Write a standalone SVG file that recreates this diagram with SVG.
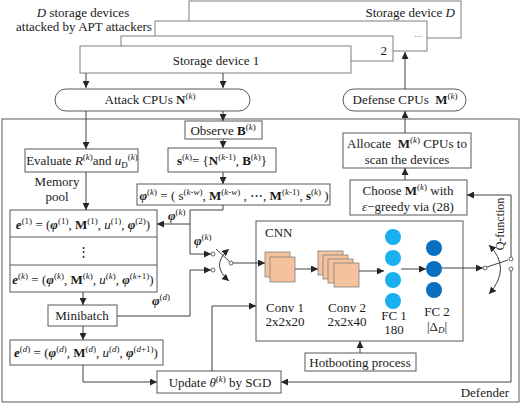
<svg xmlns="http://www.w3.org/2000/svg" width="521" height="406" viewBox="0 0 521 406">
<style>
.t{font-family:"Liberation Serif","Times New Roman",serif;font-size:13px;fill:#1a1a1a}
.sp{font-size:9px}
.i{font-style:italic}
.b{font-weight:bold}
.bi{font-weight:bold;font-style:italic}
.box{fill:#fff;stroke:#595959;stroke-width:1}
.dev{fill:#fff;stroke:#7f7f7f;stroke-width:1}
.ln{fill:none;stroke:#404040;stroke-width:1}
.ar{marker-end:url(#ah)}
.sq{fill:#F4C29C;stroke:#808080;stroke-width:0.8}
.f1{fill:#1AAFEF}
.f2{fill:#0B6FC0}
.ct{fill:#fff;stroke:#404040;stroke-width:0.8}
</style>
<defs>
<marker id="ah" viewBox="0 0 8 8" refX="8" refY="4" markerWidth="7" markerHeight="7" markerUnits="userSpaceOnUse" orient="auto"><path d="M0,0 L8,4 L0,8 z" fill="#262626"/></marker>
<marker id="ah2" viewBox="0 0 8 8" refX="8" refY="4" markerWidth="7" markerHeight="7" markerUnits="userSpaceOnUse" orient="auto-start-reverse"><path d="M0,0 L8,4 L0,8 z" fill="#262626"/></marker>
</defs>
<rect width="521" height="406" fill="#fff"/>

<g id="defender">
<rect x="2" y="119" width="517" height="283" fill="none" stroke="#595959" stroke-width="1"/>
<text class="t" x="509" y="397" text-anchor="end">Defender</text>
</g>

<g id="storage">
<rect class="dev" x="189" y="1" width="272" height="37"/>
<text class="t" x="455" y="17" text-anchor="end">Storage device <tspan class="i">D</tspan></text>
<rect class="dev" x="155" y="21" width="272" height="30"/>
<text class="t" x="418" y="37" text-anchor="middle" style="font-size:10px;fill:#888">...</text>
<rect class="dev" x="121" y="36" width="272" height="25"/>
<text class="t" x="387" y="55" text-anchor="end">2</text>
<rect class="dev" x="80" y="46" width="271" height="27"/>
<text class="t" x="216" y="65" text-anchor="middle">Storage device 1</text>
</g>

<g id="apt-label">
<text class="t" x="83" y="17" text-anchor="middle"><tspan class="i">D</tspan> storage devices</text>
<text class="t" x="84" y="31" text-anchor="middle">attacked by APT attackers</text>
</g>

<g id="attack-cpus">
<rect class="box" x="55" y="89" width="195" height="22" rx="11"/>
<text class="t" x="150" y="104" text-anchor="middle">Attack CPUs <tspan class="b">N</tspan><tspan class="sp" dy="-5">(<tspan class="i">k</tspan>)</tspan></text>
</g>

<g id="defense-cpus">
<rect class="box" x="343" y="89" width="123" height="22" rx="11"/>
<text class="t" x="405" y="104" text-anchor="middle">Defense CPUs&#160; <tspan class="b">M</tspan><tspan class="sp" dy="-5">(<tspan class="i">k</tspan>)</tspan></text>
</g>

<g id="observe">
<rect class="box" x="185" y="121" width="77" height="18"/>
<text class="t" x="223" y="135" text-anchor="middle">Observe <tspan class="b">B</tspan><tspan class="sp" dy="-5">(<tspan class="i">k</tspan>)</tspan></text>
</g>

<g id="evaluate">
<rect class="box" x="25" y="149" width="113" height="23"/>
<text class="t" x="82" y="165" text-anchor="middle">Evaluate <tspan class="i">R</tspan><tspan class="sp" dy="-5">(<tspan class="i">k</tspan>)</tspan><tspan dy="5">and </tspan><tspan class="i">u</tspan><tspan class="sp" dy="3">D</tspan><tspan class="sp" dy="-8">(<tspan class="i">k</tspan>)</tspan></text>
</g>

<g id="state">
<rect class="box" x="168" y="148" width="108" height="24"/>
<text class="t" x="222" y="165" text-anchor="middle"><tspan class="b">s</tspan><tspan class="sp" dy="-5">(<tspan class="i">k</tspan>)</tspan><tspan dy="5">= {</tspan><tspan class="b">N</tspan><tspan class="sp" dy="-5">(<tspan class="i">k</tspan>-1)</tspan><tspan dy="5">, </tspan><tspan class="b">B</tspan><tspan class="sp" dy="-5">(<tspan class="i">k</tspan>)</tspan><tspan dy="5">}</tspan></text>
</g>

<g id="memory-label">
<text class="t" x="57" y="186" text-anchor="middle">Memory</text>
<text class="t" x="57" y="201" text-anchor="middle">pool</text>
</g>

<g id="phi">
<rect class="box" x="137" y="184" width="193" height="21"/>
<text class="t" x="234" y="200" text-anchor="middle"><tspan class="bi">φ</tspan><tspan class="sp" dy="-5">(<tspan class="i">k</tspan>)</tspan><tspan dy="5"> = ( s</tspan><tspan class="sp" dy="-5">(<tspan class="i">k</tspan>-<tspan class="i">w</tspan>)</tspan><tspan dy="5">, </tspan><tspan class="b">M</tspan><tspan class="sp" dy="-5">(<tspan class="i">k</tspan>-<tspan class="i">w</tspan>)</tspan><tspan dy="5"> , ⋯, </tspan><tspan class="b">M</tspan><tspan class="sp" dy="-5">(<tspan class="i">k</tspan>-1)</tspan><tspan dy="5">, </tspan><tspan class="b">s</tspan><tspan class="sp" dy="-5">(<tspan class="i">k</tspan>)</tspan><tspan dy="5"> )</tspan></text>
</g>

<g id="memory-pool">
<rect class="box" x="10" y="210" width="147" height="82"/>
<line x1="10" y1="237" x2="157" y2="237" stroke="#595959"/>
<line x1="10" y1="265" x2="157" y2="265" stroke="#595959"/>
<text class="t" x="83" y="229" text-anchor="middle"><tspan class="bi">e</tspan><tspan class="sp" dy="-5">(1)</tspan><tspan dy="5"> = (</tspan><tspan class="bi">φ</tspan><tspan class="sp" dy="-5">(1)</tspan><tspan dy="5">, </tspan><tspan class="b">M</tspan><tspan class="sp" dy="-5">(1)</tspan><tspan dy="5">, </tspan><tspan class="i">u</tspan><tspan class="sp" dy="-5">(1)</tspan><tspan dy="5">, </tspan><tspan class="bi">φ</tspan><tspan class="sp" dy="-5">(2)</tspan><tspan dy="5">)</tspan></text>
<text class="t" x="83" y="256" text-anchor="middle">⋮</text>
<text class="t" x="83" y="284" text-anchor="middle"><tspan class="bi">e</tspan><tspan class="sp" dy="-5">(<tspan class="i">k</tspan>)</tspan><tspan dy="5"> = (</tspan><tspan class="bi">φ</tspan><tspan class="sp" dy="-5">(<tspan class="i">k</tspan>)</tspan><tspan dy="5">, </tspan><tspan class="b">M</tspan><tspan class="sp" dy="-5">(<tspan class="i">k</tspan>)</tspan><tspan dy="5">, </tspan><tspan class="i">u</tspan><tspan class="sp" dy="-5">(<tspan class="i">k</tspan>)</tspan><tspan dy="5">, </tspan><tspan class="bi">φ</tspan><tspan class="sp" dy="-5">(<tspan class="i">k</tspan>+1)</tspan><tspan dy="5">)</tspan></text>
</g>

<g id="minibatch">
<rect class="box" x="48" y="305" width="69" height="21"/>
<text class="t" x="82" y="320" text-anchor="middle">Minibatch</text>
</g>

<g id="sample">
<rect class="box" x="10" y="340" width="153" height="25"/>
<text class="t" x="86" y="357" text-anchor="middle"><tspan class="bi">e</tspan><tspan class="sp" dy="-5">(<tspan class="i">d</tspan>)</tspan><tspan dy="5"> = (</tspan><tspan class="bi">φ</tspan><tspan class="sp" dy="-5">(<tspan class="i">d</tspan>)</tspan><tspan dy="5">, </tspan><tspan class="b">M</tspan><tspan class="sp" dy="-5">(<tspan class="i">d</tspan>)</tspan><tspan dy="5">, </tspan><tspan class="i">u</tspan><tspan class="sp" dy="-5">(<tspan class="i">d</tspan>)</tspan><tspan dy="5">, </tspan><tspan class="bi">φ</tspan><tspan class="sp" dy="-5">(<tspan class="i">d</tspan>+1)</tspan><tspan dy="5">)</tspan></text>
</g>

<g id="update">
<rect class="box" x="157" y="371" width="124" height="22"/>
<text class="t" x="220" y="387" text-anchor="middle">Update <tspan class="i">θ</tspan><tspan class="sp" dy="-5">(<tspan class="i">k</tspan>)</tspan><tspan dy="5"> by SGD</tspan></text>
</g>

<g id="hotbooting">
<rect class="box" x="305" y="353" width="111" height="18"/>
<text class="t" x="360" y="367" text-anchor="middle">Hotbooting process</text>
</g>

<g id="allocate">
<rect class="box" x="343" y="133" width="128" height="35"/>
<text class="t" x="407" y="148" text-anchor="middle">Allocate&#160; <tspan class="b">M</tspan><tspan class="sp" dy="-5">(<tspan class="i">k</tspan>)</tspan><tspan dy="5"> CPUs to</tspan></text>
<text class="t" x="407" y="164" text-anchor="middle">scan the devices</text>
</g>

<g id="choose">
<rect class="box" x="350" y="180" width="117" height="35"/>
<text class="t" x="408" y="195" text-anchor="middle">Choose <tspan class="b">M</tspan><tspan class="sp" dy="-5">(<tspan class="i">k</tspan>)</tspan><tspan dy="5"> with</tspan></text>
<text class="t" x="408" y="211" text-anchor="middle"><tspan class="i">ε</tspan>−greedy via (28)</text>
</g>

<g id="cnn">
<rect x="256" y="221" width="207" height="120" fill="#fff" stroke="#595959"/>
<text class="t" x="265" y="237">CNN</text>
<rect class="sq" x="265" y="252" width="25" height="25"/>
<rect class="sq" x="270" y="257" width="25" height="25"/>
<rect class="sq" x="318" y="251" width="25" height="24"/>
<rect class="sq" x="323" y="255" width="25" height="24"/>
<rect class="sq" x="328" y="259" width="25" height="24"/>
<rect class="sq" x="334" y="263" width="25" height="24"/>
<circle class="f1" cx="393" cy="237" r="8"/>
<circle class="f1" cx="393" cy="258" r="8"/>
<circle class="f1" cx="393" cy="280" r="8"/>
<circle class="f1" cx="393" cy="301" r="8"/>
<circle class="f2" cx="434" cy="248" r="8"/>
<circle class="f2" cx="434" cy="269" r="8"/>
<circle class="f2" cx="434" cy="290" r="8"/>
<text class="t" x="285" y="312" text-anchor="middle">Conv 1</text>
<text class="t" x="285" y="326" text-anchor="middle">2x2x20</text>
<text class="t" x="347" y="312" text-anchor="middle">Conv 2</text>
<text class="t" x="347" y="326" text-anchor="middle">2x2x40</text>
<text class="t" x="394" y="320" text-anchor="middle">FC 1</text>
<text class="t" x="394" y="334" text-anchor="middle">180</text>
<text class="t" x="437" y="316" text-anchor="middle">FC 2</text>
<text class="t" x="437" y="331" text-anchor="middle">|Δ<tspan class="sp i" dy="2">D</tspan><tspan dy="-2">|</tspan></text>
</g>

<g id="switch-in">
<circle class="ct" cx="213" cy="254" r="2"/>
<circle class="ct" cx="213" cy="270" r="2"/>
<circle class="ct" cx="231" cy="263" r="2"/>
<line class="ln" x1="216" y1="249" x2="229.5" y2="261.5"/>
<path class="ln" d="M229 249 Q210 265 229 281" marker-start="url(#ah2)" marker-end="url(#ah2)"/>
</g>

<g id="switch-out">
<circle class="ct" cx="485" cy="268" r="2"/>
<circle class="ct" cx="511" cy="259" r="2"/>
<circle class="ct" cx="511" cy="269" r="2"/>
<line class="ln" x1="487" y1="267" x2="508" y2="260"/>
<path class="ln" d="M489 245 Q512 268 489 294" marker-start="url(#ah2)" marker-end="url(#ah2)"/>
<text class="t" x="0" y="0" text-anchor="middle" style="font-size:12px" transform="translate(504 224) rotate(-90)">Q-function</text>
</g>

<g id="connectors">
<path class="ln ar" d="M86 73 V88"/>
<path class="ln ar" d="M223 73 V88"/>
<path class="ln ar" d="M405 89 V52"/>
<path class="ln ar" d="M86 111 V149"/>
<path class="ln ar" d="M223 111 V121"/>
<path class="ln ar" d="M223 139 V148"/>
<path class="ln ar" d="M223 172 V184"/>
<path class="ln ar" d="M86 172 V210"/>
<path class="ln ar" d="M223 205 V210 H190 V254 H211"/>
<path class="ln ar" d="M190 224 H157"/>
<path class="ln ar" d="M117 316 H190 V270 H211"/>
<path class="ln ar" d="M83 292 V305"/>
<path class="ln ar" d="M83 326 V340"/>
<path class="ln ar" d="M83 365 V382 H157"/>
<path class="ln ar" d="M212 371 V306 H256"/>
<path class="ln ar" d="M360 353 V341"/>
<path class="ln ar" d="M233 263 H265"/>
<path class="ln ar" d="M295 269 H318"/>
<path class="ln ar" d="M359 271 H384"/>
<path class="ln ar" d="M401 269 H426"/>
<path class="ln ar" d="M442 268 H483"/>
<path class="ln ar" d="M511 257 V195 H467"/>
<path class="ln ar" d="M511 271 V382 H281"/>
<path class="ln ar" d="M405 180 V168"/>
<path class="ln ar" d="M405 133 V111"/>
<text class="t" x="168" y="220"><tspan class="bi">φ</tspan><tspan class="sp" dy="-5">(<tspan class="i">k</tspan>)</tspan></text>
<text class="t" x="194" y="245"><tspan class="bi">φ</tspan><tspan class="sp" dy="-5">(<tspan class="i">k</tspan>)</tspan></text>
<text class="t" x="152" y="305"><tspan class="bi">φ</tspan><tspan class="sp" dy="-5">(<tspan class="i">d</tspan>)</tspan></text>
</g>
</svg>
